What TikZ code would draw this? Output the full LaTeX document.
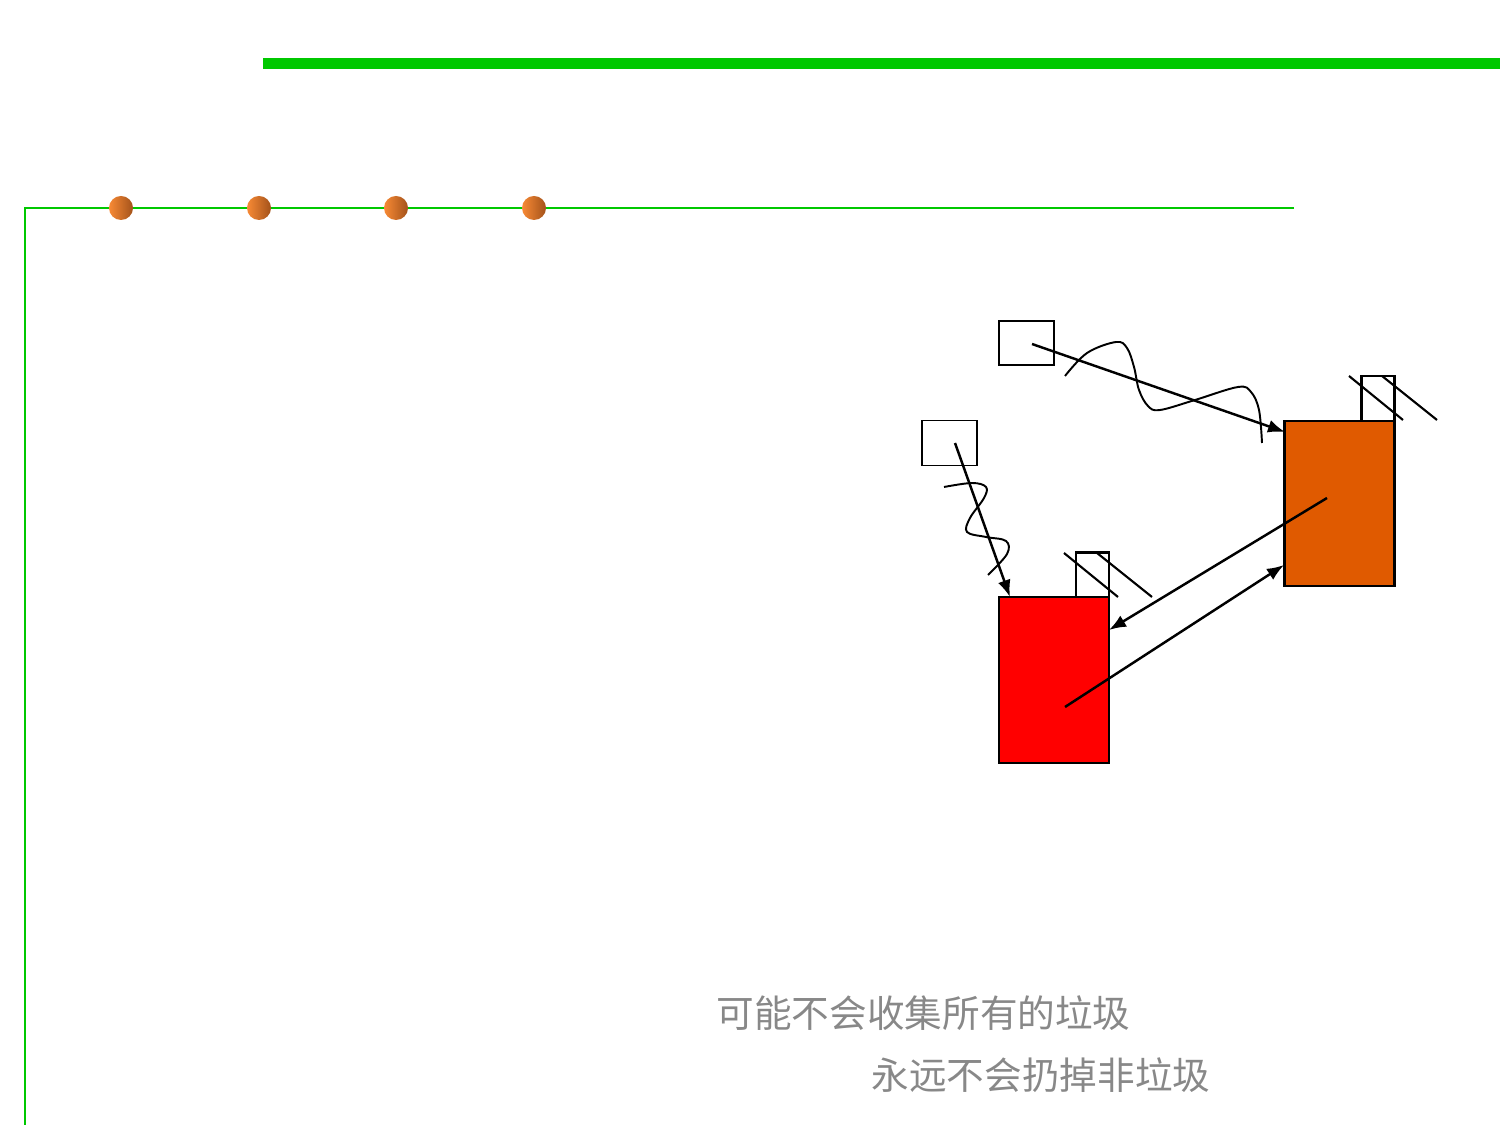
\documentclass[tikz,border=0pt]{standalone}
\usepackage{fontspec}
\newfontfamily\cjk{Noto Sans CJK SC}
\usepackage{xcolor}
\usepackage{tikz}
\usetikzlibrary{positioning,arrows.meta,calc}

\definecolor{slidegreen}{HTML}{00C800}
\definecolor{cellorange}{HTML}{E05A00}
\definecolor{ballhi}{HTML}{F88A35}
\definecolor{balllo}{HTML}{A3521A}
\definecolor{notegray}{HTML}{888888}

\begin{document}
\begin{tikzpicture}[x=0.01cm, y=-0.01cm,
    msg/.style={draw, line width=0.5pt, fill=white, minimum width=0.55cm,
                minimum height=0.44cm, inner sep=0pt},
    cell/.style={draw, line width=0.6pt, minimum width=1.10cm,
                 minimum height=1.65cm, inner sep=0pt},
    chim/.style={draw, line width=0.6pt, fill=white, minimum width=0.33cm,
                 minimum height=0.45cm, inner sep=0pt},
    ball/.style={circle, minimum size=0.24cm, inner sep=0pt,
                 left color=ballhi, right color=balllo},
    link/.style={line width=0.7pt, -{Latex[length=0.17cm, width=0.13cm]}},
    wave/.style={line width=0.55pt},
    note/.style={font=\cjk\fontsize{10.7pt}{12pt}\selectfont, text=notegray,
                 anchor=west, inner sep=0pt}]
  \useasboundingbox (0,0) rectangle (1500,1125);
  % slide frame
  \draw[slidegreen, line width=0.11cm] (263,63.5) -- (1500,63.5);
  \draw[slidegreen, line width=0.6pt] (1294,208) -- (25,208) -- (25,1125);
  \foreach \bx [count=\i] in {121,259,396,534}
    \node[ball] (b\i) at (\bx,208) {};
  % cells
  \node[chim] (chimO) at (1378,398.5) {};
  \node[cell, fill=cellorange] (bigO) at (1339.5,503.5) {};
  \node[chim] (chimR) at (1092.5,575) {};
  \node[cell, fill=red, minimum height=1.66cm] (bigR) at (1054,680) {};
  % smoke
  \draw[line width=0.6pt] (1349,376) -- (1403,420);
  \draw[line width=0.6pt] (1382,376) -- (1437,420);
  \draw[line width=0.6pt] (1064,553) -- (1118,597);
  \draw[line width=0.6pt] (1097,553) -- (1152,597);
  % messages
  \node[msg] (msgA) at (1026.5,343) {};
  \node[msg, minimum height=0.45cm] (msgB) at (949.5,443) {};
  \draw[wave] plot[smooth, tension=0.6] coordinates {(1065,376) (1087,353)
    (1116,342) (1127,348) (1134,367) (1139,390) (1148,406) (1160,410)
    (1195,400) (1238,387) (1251,392) (1259,410) (1262,443)};
  \draw[wave] plot[smooth, tension=0.6] coordinates {(944,487) (972,483)
    (986,487) (984,498) (970,518) (967,532) (986,537) (1006,541)
    (1007,554) (988,575)};
  % links
  \coordinate (inO) at (1285,432);
  \coordinate (inR) at (1010,597);
  \coordinate (fromO) at (1327,498);
  \coordinate (toR) at (1109,630);
  \coordinate (fromR) at (1065,707);
  \coordinate (toO) at (1284,565);
  \draw[link] (1032,344) -- (inO);
  \draw[link] (955,443) -- (inR);
  \draw[link] (fromO) -- (toR);
  \draw[link] (fromR) -- (toO);
  % notes
  \node[note] (n1) at (716,1013) {可能不会收集所有的垃圾};
  \node[note] (n2) at (871,1075) {永远不会扔掉非垃圾};
\end{tikzpicture}
\end{document}
